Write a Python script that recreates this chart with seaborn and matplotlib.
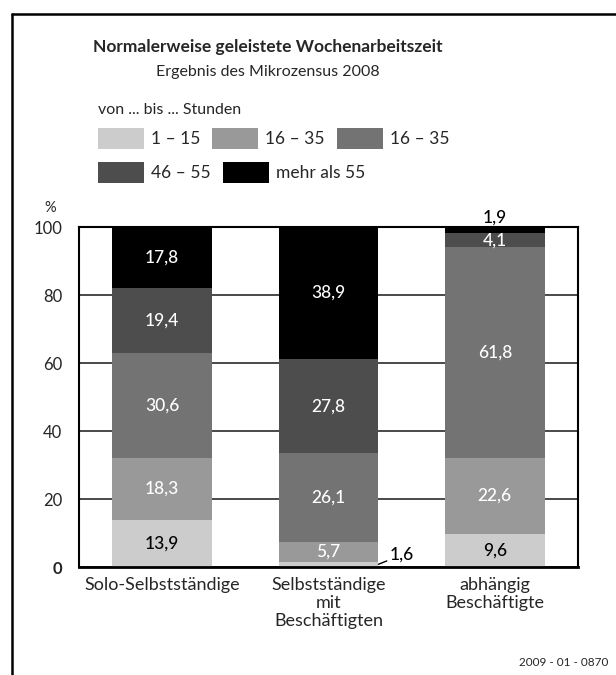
import numpy as np
import pandas as pd
import matplotlib
matplotlib.use("Agg")
import matplotlib.pyplot as plt
import seaborn as sns
from matplotlib.patches import Patch
from matplotlib.lines import Line2D

# data
categories = ["Solo-Selbstständige", "Selbstständige\nmit\nBeschäftigten", "abhängig\nBeschäftigte"]
groups = ["1 – 15", "16 – 35", "16 – 35 ", "46 – 55", "mehr als 55"]
h_1_15 = [13.9, 1.6, 9.6]
h_16_35 = [18.3, 5.7, 22.6]
h_36_45 = [30.6, 26.1, 61.8]
h_46_55 = [19.4, 27.8, 4.1]
h_55plus = [17.8, 38.9, 1.9]
yticks = [0, 20, 40, 60, 80, 100]

colors = ["#cccccc", "#999999", "#737373", "#4d4d4d", "#000000"]
text_colors = ["black", "white", "white", "white", "white"]

sns.set_style("white")
plt.rcParams["font.family"] = ["Lato", "DejaVu Sans"]

values = np.array([h_1_15, h_16_35, h_36_45, h_46_55, h_55plus])
cum = values.cumsum(axis=0)

fig = plt.figure(figsize=(6.16, 6.75), dpi=100)
ax = fig.add_axes([79 / 616, 1 - 567 / 675, 499 / 616, 340 / 675])

# stacked bars: draw cumulative totals from top segment down
for i in range(4, -1, -1):
    df = pd.DataFrame({"cat": categories, "val": cum[i]})
    sns.barplot(data=df, x="cat", y="val", color=colors[i], saturation=1,
                width=0.6, linewidth=0, ax=ax, zorder=2)

# segment labels
lab_kw = dict(fontsize=12.5, fontweight="medium")
for j, cat in enumerate(categories):
    for i in range(5):
        v = values[i, j]
        mid = cum[i, j] - v / 2
        lab = f"{v:.1f}".replace(".", ",")
        if j == 1 and i == 0:
            ax.annotate(lab, xy=(j + 0.3, mid), xytext=(j + 0.37, 3.6),
                        ha="left", va="center", color="black",
                        arrowprops=dict(arrowstyle="-", lw=1, color="black",
                                        shrinkA=0, shrinkB=0), **lab_kw)
        elif j == 2 and i == 4:
            ax.text(j, cum[i, j] + 0.3, lab, ha="center", va="bottom",
                    color="black", clip_on=False, **lab_kw)
        else:
            ax.text(j, mid, lab, ha="center", va="center",
                    color=text_colors[i], zorder=3, **lab_kw)

ax.set_xlim(-0.5, 2.5)
ax.set_ylim(0, 100)
ax.set_yticks(yticks)
ax.set_yticklabels([str(t) for t in yticks], fontsize=12)
ax.get_yticklabels()[0].set_fontweight("bold")
ax.yaxis.grid(True, color="#3a3a3a", lw=1.3, zorder=0)
ax.set_axisbelow(True)
ax.tick_params(axis="y", length=0, pad=12)
ax.set_xticks(range(len(categories)))
ax.set_xticklabels(categories, fontsize=13, linespacing=1.15)
ax.set_xticks([-0.5, 0.5, 1.5, 2.5], minor=True)
ax.tick_params(axis="x", which="major", length=0, pad=7)
ax.tick_params(axis="x", which="minor", length=6, width=1.3, color="black")
ax.set_xlabel("")
ax.set_ylabel("")
for s in ax.spines.values():
    s.set_visible(True)
    s.set_color("black")
    s.set_linewidth(1.5)
ax.spines["bottom"].set_linewidth(2)

# texts
fig.text(0.435, 1 - 47 / 675, "Normalerweise geleistete Wochenarbeitszeit",
         ha="center", va="center", fontsize=12.5, fontweight="bold")
fig.text(0.435, 1 - 72 / 675, "Ergebnis des Mikrozensus 2008",
         ha="center", va="center", fontsize=11.5)
fig.text(98 / 616, 1 - 110 / 675, "von ... bis ... Stunden",
         ha="left", va="center", fontsize=11.5)
fig.text(50 / 616, 1 - 208 / 675, "%", ha="center", va="center", fontsize=10.5)
fig.text(608 / 616, 1 - 662 / 675, "2009 - 01 - 0870", ha="right",
         va="center", fontsize=8.5)

# legend, two rows
handles = [Patch(facecolor=c, edgecolor="none") for c in colors]
leg_kw = dict(frameon=False, loc="upper left", fontsize=12.5, handlelength=2.65,
              handleheight=1.45, handletextpad=0.4, columnspacing=0.7,
              borderpad=0, borderaxespad=0)
fig.legend(handles[:3], groups[:3], ncols=3,
           bbox_to_anchor=(98 / 616, 1 - 128 / 675), **leg_kw)
fig.legend(handles[3:], groups[3:], ncols=2,
           bbox_to_anchor=(98 / 616, 1 - 162 / 675), **leg_kw)

# frame lines
fig.add_artist(Line2D([12 / 616, 1], [1 - 14 / 675] * 2, color="black", lw=1.8))
fig.add_artist(Line2D([12 / 616] * 2, [0, 1 - 14 / 675], color="black", lw=1.8))

fig.savefig("out.png", dpi=100)
